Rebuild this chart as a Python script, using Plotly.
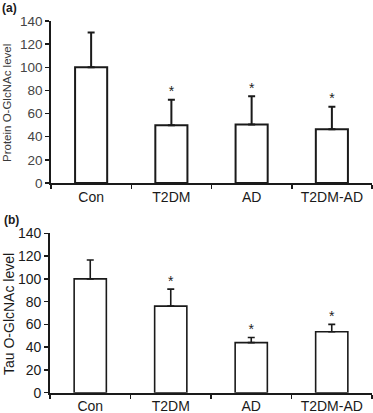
import plotly.graph_objects as go

categories = ["Con", "T2DM", "AD", "T2DM-AD"]
protein_values = [100, 50, 50.5, 46.5]
protein_errors = [30, 22, 24.5, 19.5]
tau_values = [100, 76, 44, 53.5]
tau_errors = [16.5, 15, 4.5, 6.5]
protein_stars = ["", "*", "*", "*"]
tau_stars = ["", "*", "*", "*"]
y_ticks = [0, 20, 40, 60, 80, 100, 120, 140]

FONT = "Arial, Liberation Sans, sans-serif"
W, H = 373, 413

fig = go.Figure()

def add_panel(values, errors, stars, xa, ya, lw):
    fig.add_trace(go.Bar(
        x=categories, y=values, xaxis=xa, yaxis=ya, width=0.4,
        marker=dict(color="white", line=dict(color="#1a1a1a", width=lw)),
        error_y=dict(type="data", symmetric=False, array=errors,
                     arrayminus=[0] * len(errors), color="#1a1a1a",
                     thickness=lw, width=3.5),
        showlegend=False, hoverinfo="skip"))
    fig.add_trace(go.Scatter(
        x=categories, y=[v + e for v, e in zip(values, errors)],
        xaxis=xa, yaxis=ya, mode="text", text=stars,
        textposition="top center",
        textfont=dict(family=FONT, size=14, color="#222"),
        showlegend=False, hoverinfo="skip"))

add_panel(protein_values, protein_errors, protein_stars, "x", "y", 2)
add_panel(tau_values, tau_errors, tau_stars, "x2", "y2", 1.6)

def px_x(p):
    return p / W

def px_y(p):
    return 1 - p / H

xcommon = dict(type="category", tickson="boundaries", ticks="outside",
               ticklen=4, tickwidth=1.5, tickcolor="#1a1a1a",
               showline=True, linecolor="#1a1a1a", linewidth=1.8,
               showgrid=False, zeroline=False, automargin=False,
               range=[-0.5, 3.5], fixedrange=True,
               tickfont=dict(family=FONT, size=14, color="#1a1a1a"))
ycommon = dict(range=[0, 140], tickvals=y_ticks, ticks="outside",
               ticklen=4, tickwidth=1.5, tickcolor="#1a1a1a",
               showline=True, linecolor="#1a1a1a", linewidth=1.8,
               showgrid=False, zeroline=False, automargin=False,
               fixedrange=True)

fig.update_layout(
    width=W, height=H,
    margin=dict(l=0, r=0, t=0, b=0),
    paper_bgcolor="white", plot_bgcolor="white",
    bargap=0.6,
    xaxis=dict(domain=[px_x(51), px_x(372)], anchor="y", **xcommon),
    yaxis=dict(domain=[px_y(183), px_y(21)], anchor="x",
               tickfont=dict(family=FONT, size=13.5, color="#444"), **ycommon),
    xaxis2=dict(domain=[px_x(50), px_x(372)], anchor="y2", **xcommon),
    yaxis2=dict(domain=[px_y(392.7), px_y(233.3)], anchor="x2",
                tickfont=dict(family=FONT, size=14, color="#1a1a1a"), **ycommon),
    annotations=[
        dict(text="<b>(a)</b>", x=0, y=1 - 8 / H, xref="paper", yref="paper",
             xanchor="left", yanchor="middle", showarrow=False,
             font=dict(family=FONT, size=12, color="#1a1a1a")),
        dict(text="<b>(b)</b>", x=px_x(2), y=px_y(220), xref="paper", yref="paper",
             xanchor="left", yanchor="middle", showarrow=False,
             font=dict(family=FONT, size=12, color="#1a1a1a")),
        dict(text="Protein O-GlcNAc level", x=px_x(7), y=px_y(103),
             xref="paper", yref="paper", textangle=-90, showarrow=False,
             xanchor="center", yanchor="middle",
             font=dict(family=FONT, size=11.5, color="#3a3a3a")),
        dict(text="Tau O-GlcNAc level", x=px_x(9), y=px_y(314),
             xref="paper", yref="paper", textangle=-90, showarrow=False,
             xanchor="center", yanchor="middle",
             font=dict(family=FONT, size=14, color="#1a1a1a")),
    ],
)

fig.write_html("out.html",
               config={"displayModeBar": False, "staticPlot": True},
               post_script="document.body.style.margin='0';document.body.style.overflow='hidden';")
